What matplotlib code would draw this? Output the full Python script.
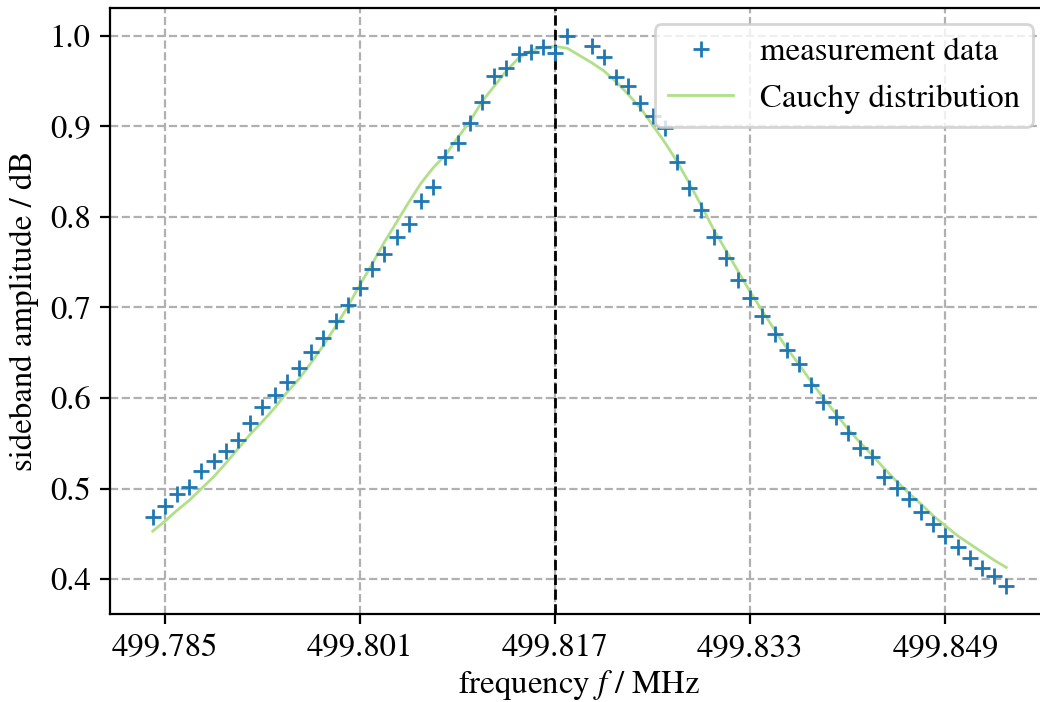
import matplotlib
matplotlib.use("Agg")
import matplotlib.pyplot as plt

plt.rcParams['font.family'] = 'STIXGeneral'
plt.rcParams['mathtext.fontset'] = 'stix'
plt.rcParams['font.size'] = 11.8

# sideband scan, left and right of the carrier (499.819 MHz was not recorded)
freq = [499.784, 499.785, 499.786, 499.787, 499.788, 499.789, 499.790, 499.791, 499.792, 499.793,
        499.794, 499.795, 499.796, 499.797, 499.798, 499.799, 499.800, 499.801, 499.802, 499.803,
        499.804, 499.805, 499.806, 499.807, 499.808, 499.809, 499.810, 499.811, 499.812, 499.813,
        499.814, 499.815, 499.816, 499.817, 499.818,
        499.820, 499.821, 499.822, 499.823, 499.824, 499.825, 499.826, 499.827, 499.828, 499.829,
        499.830, 499.831, 499.832, 499.833, 499.834, 499.835, 499.836, 499.837, 499.838, 499.839,
        499.840, 499.841, 499.842, 499.843, 499.844, 499.845, 499.846, 499.847, 499.848, 499.849,
        499.850, 499.851, 499.852, 499.853, 499.854]

amplitude = [0.469, 0.481, 0.494, 0.502, 0.519, 0.530, 0.541, 0.554, 0.572, 0.590,
             0.603, 0.618, 0.633, 0.651, 0.666, 0.685, 0.703, 0.721, 0.742, 0.759,
             0.778, 0.792, 0.817, 0.833, 0.866, 0.881, 0.904, 0.927, 0.955, 0.964,
             0.980, 0.982, 0.987, 0.981, 1.000,
             0.988, 0.976, 0.954, 0.944, 0.926, 0.911, 0.898, 0.860, 0.832, 0.808,
             0.778, 0.754, 0.730, 0.710, 0.690, 0.671, 0.653, 0.638, 0.614, 0.596,
             0.579, 0.561, 0.545, 0.535, 0.513, 0.501, 0.488, 0.474, 0.461, 0.448,
             0.435, 0.423, 0.412, 0.403, 0.392]

# fitted cauchy curve evaluated at the same frequencies
cauchy_fit = [0.453, 0.464, 0.476, 0.487, 0.500, 0.513, 0.528, 0.544, 0.560, 0.574,
              0.589, 0.606, 0.621, 0.639, 0.658, 0.679, 0.701, 0.725, 0.748, 0.772,
              0.794, 0.816, 0.837, 0.854, 0.868, 0.887, 0.905, 0.927, 0.944, 0.961,
              0.975, 0.983, 0.987, 0.988, 0.986,
              0.970, 0.961, 0.949, 0.935, 0.920, 0.901, 0.882, 0.861, 0.837, 0.812,
              0.786, 0.763, 0.740, 0.717, 0.696, 0.675, 0.655, 0.637, 0.618, 0.600,
              0.583, 0.566, 0.551, 0.537, 0.522, 0.508, 0.495, 0.483, 0.470, 0.459,
              0.448, 0.439, 0.430, 0.421, 0.413]

center = 499.817
xticks = [499.785, 499.801, 499.817, 499.833, 499.849]

fig = plt.figure(figsize=(5.2, 3.51), dpi=200)
ax = fig.add_axes([110/1040, 88/702, 939/1040, 606/702])

ax.plot(freq, amplitude, '+', color='#1f78b4', label='measurement data', zorder=3)
ax.plot(freq, cauchy_fit, '-', color='#b2df8a', lw=1.0, label='Cauchy distribution', zorder=2)
ax.axvline(center, color='k', ls='--', lw=1.0, zorder=2)

ax.set_xticks(xticks)
ax.set_xticklabels(['%.3f' % t for t in xticks])
ax.set_yticks([0.4, 0.5, 0.6, 0.7, 0.8, 0.9, 1.0])
ax.grid(True, ls='--', color='#b0b0b0', lw=0.8)
ax.set_axisbelow(True)

ax.set_xlabel('frequency $f$ / MHz', labelpad=2)
ax.set_ylabel('sideband amplitude / dB')
ax.legend(loc='upper right')

fig.savefig('out.png', dpi=200)
